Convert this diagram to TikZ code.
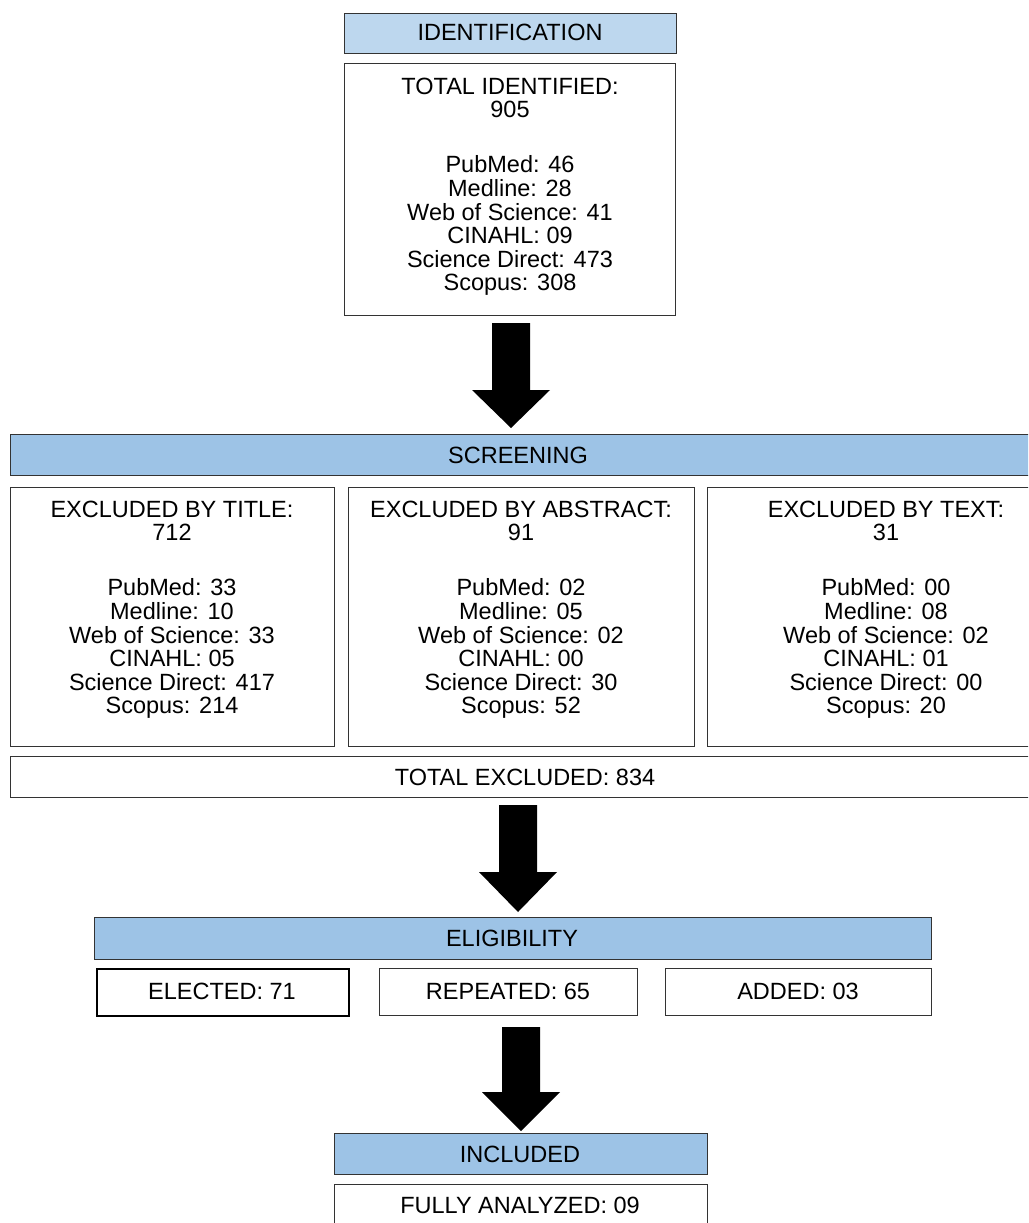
\documentclass[tikz,border=0pt]{standalone}
\usepackage{fontspec}
\setmainfont{Liberation Sans}
\definecolor{lightblue}{HTML}{BDD7EE}
\definecolor{midblue}{HTML}{9DC3E6}
\definecolor{edge}{HTML}{333333}
\newcommand{\blockarr}[4]{% cx, top, head, tip
  \fill[black] (#1-19,#2) -- (#1+19,#2) -- (#1+19,#3) -- (#1+39,#3) -- (#1,#4) -- (#1-39,#3) -- (#1-19,#3) -- cycle;}
\newcommand{\lines}[1]{\begin{tabular}[t]{@{}c@{}}#1\end{tabular}}
\begin{document}
\begin{tikzpicture}[x=1pt,y=-1pt,
  box/.style={draw=edge, line width=1.2pt, fill=white, rectangle, inner sep=0pt, anchor=north west},
  headbox/.style={box, fill=midblue},
  txt/.style={inner sep=0pt, anchor=base, font=\fontsize{23.5}{23.1}\selectfont, text=black}]
\useasboundingbox (0,0) rectangle (1028,1223);
\clip (0,0) rectangle (1028,1223);
% Identification
\node[headbox, fill=lightblue, minimum width=332pt, minimum height=40pt] (idbox) at (344,13) {};
\node[txt] (idtxt) at (510,41) {IDENTIFICATION};
\node[box, minimum width=331pt, minimum height=252pt] (totid) at (344,63) {};
\node[txt] (totidtxt) at (510,94) {\lines{TOTAL IDENTIFIED:\\905\\[31pt]PubMed: 46\\Medline: 28\\Web of Science: 41\\CINAHL: 09\\Science Direct: 473\\Scopus: 308}};
\blockarr{511}{323}{390}{428}
% Screening
\node[headbox, minimum width=1040pt, minimum height=41pt] (scr) at (9.5,434) {};
\node[txt] (scrtxt) at (518,463) {SCREENING};
\node[box, minimum width=324pt, minimum height=259pt] (extitle) at (10,487) {};
\node[txt] (extitletxt) at (172,517) {\lines{EXCLUDED BY TITLE:\\712\\[31pt]PubMed: 33\\Medline: 10\\Web of Science: 33\\CINAHL: 05\\Science Direct: 417\\Scopus: 214}};
\node[box, minimum width=346pt, minimum height=259pt] (exabs) at (348,487) {};
\node[txt] (exabstxt) at (521,517) {\lines{EXCLUDED BY ABSTRACT:\\91\\[31pt]PubMed: 02\\Medline: 05\\Web of Science: 02\\CINAHL: 00\\Science Direct: 30\\Scopus: 52}};
\node[box, minimum width=340pt, minimum height=259pt] (extext) at (707,487) {};
\node[txt] (extexttxt) at (886,517) {\lines{EXCLUDED BY TEXT:\\31\\[31pt]PubMed: 00\\Medline: 08\\Web of Science: 02\\CINAHL: 01\\Science Direct: 00\\Scopus: 20}};
\node[box, minimum width=1040pt, minimum height=41pt] (totex) at (10,756) {};
\node[txt] (totextxt) at (525,785) {TOTAL EXCLUDED: 834};
\blockarr{518}{805}{872}{912}
% Eligibility
\node[headbox, minimum width=837pt, minimum height=42pt] (elig) at (94,917) {};
\node[txt] (eligtxt) at (512,946) {ELIGIBILITY};
\node[box, draw=black, line width=2pt, minimum width=252pt, minimum height=47pt] (elected) at (96,968) {};
\node[txt] (electedtxt) at (222,999) {ELECTED: 71};
\node[box, minimum width=258pt, minimum height=47pt] (repeated) at (379,968) {};
\node[txt] (repeatedtxt) at (508,999) {REPEATED: 65};
\node[box, minimum width=266pt, minimum height=47pt] (added) at (665,968) {};
\node[txt] (addedtxt) at (798,999) {ADDED: 03};
\blockarr{521}{1027}{1092}{1131}
% Included
\node[headbox, minimum width=373pt, minimum height=41pt] (incl) at (334,1133) {};
\node[txt] (incltxt) at (520,1162) {INCLUDED};
\node[box, minimum width=373pt, minimum height=60pt] (full) at (334,1184) {};
\node[txt] (fulltxt) at (520,1213) {FULLY ANALYZED: 09};
\end{tikzpicture}
\end{document}
